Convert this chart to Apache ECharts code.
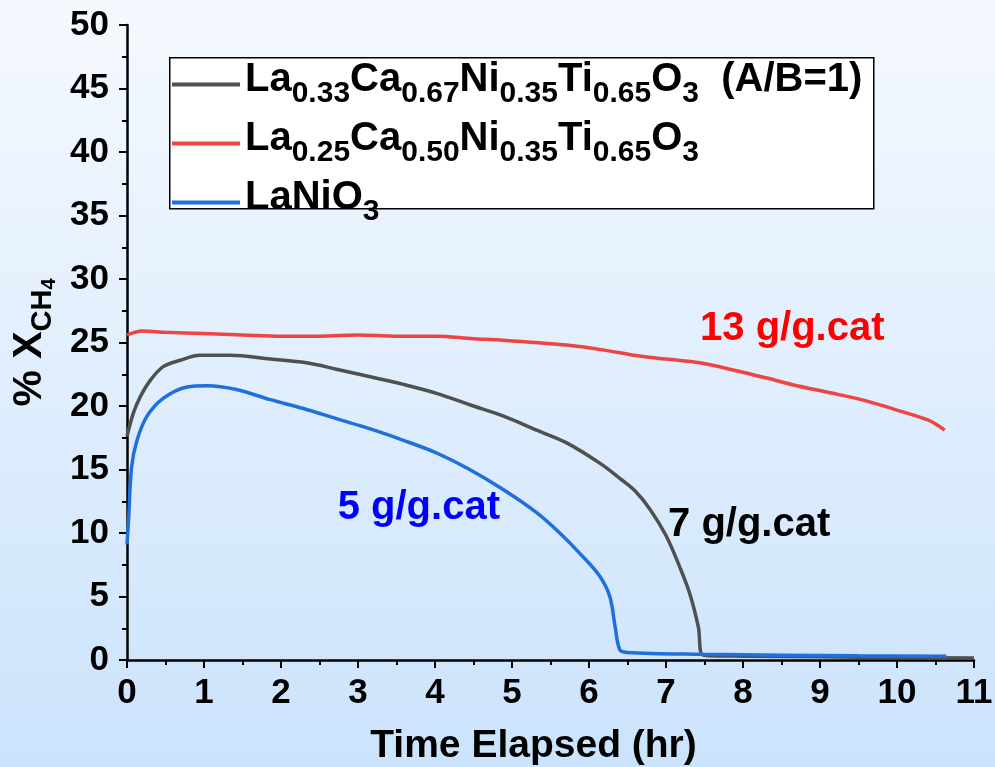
<!DOCTYPE html>
<html>
<head>
<meta charset="utf-8">
<script src="https://cdn.jsdelivr.net/npm/echarts@6/dist/echarts.min.js"></script>
<style>
  html, body { margin: 0; padding: 0; }
  #chart { width: 995px; height: 767px; }
</style>
</head>
<body>
<div id="chart"></div>
<script>
// series names (rich text for subscripts)
const seriesNames = ['A033', 'A025', 'LNO'];
const legendLabels = {
  A033: '{m|La}{s|0.33}{m|Ca}{s|0.67}{m|Ni}{s|0.35}{m|Ti}{s|0.65}{m|O}{s|3}{m|  (A/B=1)}',
  A025: '{m|La}{s|0.25}{m|Ca}{s|0.50}{m|Ni}{s|0.35}{m|Ti}{s|0.65}{m|O}{s|3}',
  LNO: '{m|LaNiO}{s|3}'
};

// La0.33Ca0.67Ni0.35Ti0.65O3 (grey, 7 g/g.cat)
const greyTime = [0, 0.08, 0.17, 0.30, 0.47, 0.69, 0.95, 1.34, 1.86, 2.33, 2.72, 3.16, 3.59, 4.02, 4.45, 4.89, 5.32, 5.71, 6.14, 6.4, 6.6, 6.8, 7.0, 7.18, 7.31, 7.42, 7.48, 8, 9, 10, 11];
const greyConv = [17.6, 19.4, 20.7, 22.0, 23.1, 23.6, 24.0, 24.0, 23.7, 23.4, 22.9, 22.3, 21.7, 21.0, 20.1, 19.2, 18.1, 17.1, 15.5, 14.3, 13.3, 11.8, 9.8, 7.3, 5.2, 2.6, 0.4, 0.3, 0.25, 0.2, 0.15];

// La0.25Ca0.50Ni0.35Ti0.65O3 (red, 13 g/g.cat)
const redTime = [0, 0.1, 0.2, 0.5, 1.0, 1.5, 2.0, 2.5, 3.0, 3.5, 4.0, 4.5, 4.84, 5.3, 5.71, 6.2, 6.58, 7.0, 7.44, 7.9, 8.31, 8.7, 9.17, 9.6, 10.04, 10.4, 10.62];
const redConv = [25.6, 25.8, 25.9, 25.8, 25.7, 25.6, 25.5, 25.5, 25.6, 25.5, 25.5, 25.3, 25.2, 25.0, 24.8, 24.4, 24.0, 23.7, 23.4, 22.8, 22.2, 21.6, 21.0, 20.4, 19.6, 18.9, 18.1];

// LaNiO3 (blue, 5 g/g.cat)
const blueTime = [0, 0.02, 0.06, 0.13, 0.26, 0.47, 0.78, 1.04, 1.42, 1.86, 2.29, 2.72, 3.16, 3.59, 4.02, 4.45, 4.89, 5.32, 5.62, 5.88, 6.14, 6.27, 6.34, 6.40, 6.49, 7.48, 8.5, 9.5, 10.64];
const blueConv = [9.1, 11, 15.2, 17.3, 19.2, 20.6, 21.5, 21.6, 21.3, 20.5, 19.8, 19.0, 18.2, 17.3, 16.3, 15.0, 13.4, 11.6, 10.0, 8.4, 6.6, 5.0, 2.6, 0.8, 0.6, 0.45, 0.38, 0.33, 0.3];

// annotation labels [x, y] in data units
const loadLabels = ['7 g/g.cat', '13 g/g.cat', '5 g/g.cat'];
const loadLabelPos = [[8.08, 10.6], [8.64, 26.1], [3.79, 12.0]];

const lineColors = ['#505050', '#ef4444', '#1f70dd'];
const labelColors = ['#000000', '#ff0000', '#0000ff'];

const FONT = '"Liberation Sans", Arial, sans-serif';

const zip = (xs, ys) => xs.map((x, i) => [x, ys[i]]);
const seriesData = [zip(greyTime, greyConv), zip(redTime, redConv), zip(blueTime, blueConv)];

const chart = echarts.init(document.getElementById('chart'));

const option = {
  animation: false,
  backgroundColor: {
    type: 'linear', x: 0, y: 0, x2: 0, y2: 1,
    colorStops: [
      { offset: 0, color: '#f5f9fe' },
      { offset: 1, color: '#cbe3fc' }
    ]
  },
  grid: { left: 127, right: 21, top: 25, bottom: 107, containLabel: false, outerBoundsMode: 'none' },
  // legend frame (tight box, the last subscript pokes out below it)
  graphic: [{
    type: 'rect',
    left: 169,
    top: 57,
    z: 0,
    shape: { width: 704, height: 151 },
    style: { fill: '#ffffff', stroke: '#000000', lineWidth: 1.5 }
  }],
  legend: {
    orient: 'vertical',
    left: 169,
    top: 60,
    padding: [0, 0, 0, 3],
    itemGap: 10,
    itemWidth: 68,
    itemHeight: 4,
    icon: 'rect',
    data: seriesNames,
    formatter: (name) => legendLabels[name],
    textStyle: {
      rich: {
        m: { fontFamily: FONT, fontWeight: 'bold', fontSize: 40, color: '#000', verticalAlign: 'bottom', padding: [0, 0, 9, 0] },
        s: { fontFamily: FONT, fontWeight: 'bold', fontSize: 30, color: '#000', verticalAlign: 'bottom' }
      }
    }
  },
  xAxis: {
    type: 'value',
    min: 0,
    max: 11,
    interval: 1,
    name: 'Time Elapsed (hr)',
    nameLocation: 'middle',
    nameGap: 67,
    nameTextStyle: { fontFamily: FONT, fontWeight: 'bold', fontSize: 39, color: '#000', padding: [0, 34, 0, 0] },
    axisLine: { onZero: false, lineStyle: { color: '#000', width: 2.5 } },
    axisTick: { length: 8, lineStyle: { color: '#000', width: 2 } },
    minorTick: { show: true, splitNumber: 2, length: 5, lineStyle: { color: '#000', width: 2 } },
    splitLine: { show: false },
    axisLabel: { fontFamily: FONT, fontWeight: 'bold', fontSize: 35, color: '#000', margin: 16 }
  },
  yAxis: {
    type: 'value',
    min: 0,
    max: 50,
    interval: 5,
    name: '{m|% X}{s|CH}{t|4}',
    nameLocation: 'middle',
    nameGap: 67,
    nameRotate: 90,
    nameTextStyle: {
      rich: {
        m: { fontFamily: FONT, fontWeight: 'bold', fontSize: 41, color: '#000', verticalAlign: 'bottom', padding: [0, 0, 9, 0] },
        s: { fontFamily: FONT, fontWeight: 'bold', fontSize: 29, color: '#000', verticalAlign: 'bottom', padding: [0, 0, 2, 0] },
        t: { fontFamily: FONT, fontWeight: 'bold', fontSize: 20, color: '#000', verticalAlign: 'bottom' }
      }
    },
    axisLine: { show: true, onZero: false, lineStyle: { color: '#000', width: 2.5 } },
    axisTick: { show: true, length: 8, lineStyle: { color: '#000', width: 2 } },
    minorTick: { show: true, splitNumber: 2, length: 5, lineStyle: { color: '#000', width: 2 } },
    splitLine: { show: false },
    axisLabel: { fontFamily: FONT, fontWeight: 'bold', fontSize: 35, color: '#000', margin: 18 }
  },
  series: seriesNames.map((name, i) => ({
    name: name,
    type: 'line',
    data: seriesData[i],
    showSymbol: false,
    smooth: 0.35,
    color: lineColors[i],
    lineStyle: { color: lineColors[i], width: 3.5 },
    markPoint: {
      symbol: 'circle',
      symbolSize: 0,
      silent: true,
      data: [{
        coord: loadLabelPos[i],
        label: {
          show: true,
          position: 'inside',
          formatter: loadLabels[i],
          fontFamily: FONT,
          fontWeight: 'bold',
          fontSize: 40,
          color: labelColors[i]
        }
      }]
    }
  }))
};

chart.setOption(option);
</script>
</body>
</html>
